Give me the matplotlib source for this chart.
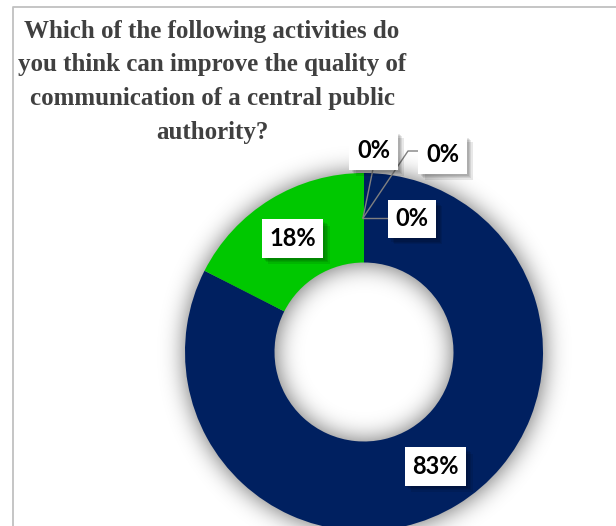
import math
import numpy as np
import matplotlib
matplotlib.use("Agg")
import matplotlib.pyplot as plt
import matplotlib.patheffects as pe

# survey answers (share of respondents, %)
answers = ["Option A", "Option B", "Option C", "Option D", "Option E"]
shares = [82.5, 17.5, 0.0, 0.0, 0.0]
colors = ["#002060", "#00c800", "#7f7f7f", "#a5a5a5", "#ffc000"]
title_lines = ["Which of the following activities do",
               "you think can improve the quality of",
               "communication of a central public",
               "authority?"]

W, H = 616, 526
cx, cy = 364, 352          # ring centre in pixel coords (y down)
R_out, R_in = 179, 89.5


def pct(v):
    # Excel-style half-up rounding
    return "%d%%" % math.floor(v + 0.5)


fig = plt.figure(figsize=(W / 100, H / 100), dpi=100)
ax = fig.add_axes([0, 0, 1, 1])

# soft shadow under the ring
yy, xx = np.mgrid[0:H, 0:W]
rr = np.hypot(xx - cx, yy - cy)
ring = ((rr <= R_out) & (rr >= R_in)).astype(float)
k = np.arange(-36, 37)
g = np.exp(-k ** 2 / (2 * 12.0 ** 2))
g /= g.sum()
blur = np.apply_along_axis(lambda m: np.convolve(m, g, mode="same"), 0, ring)
blur = np.apply_along_axis(lambda m: np.convolve(m, g, mode="same"), 1, blur)
shadow = np.zeros((H, W, 4))
shadow[..., 3] = blur * 0.6
ax.imshow(shadow, extent=(0, W, 0, H), origin="upper", zorder=0,
          interpolation="bilinear")

wedges, _ = ax.pie(shares, colors=colors, radius=R_out, center=(cx, H - cy),
                   startangle=90, counterclock=False,
                   wedgeprops=dict(width=R_out - R_in, linewidth=0))
for w in wedges:
    w.set_zorder(2)

ax.set_xlim(0, W)
ax.set_ylim(0, H)
ax.set_aspect("equal")
ax.axis("off")

# outer frame
ax.plot([12.5, 12.5, W + 5], [-5, H - 6.5, H - 6.5], color="#c0c0c0",
        lw=1.3, zorder=1, clip_on=False)

# title, one line at a time
for i, line in enumerate(title_lines):
    ax.text(212, H - 38 - 33.5 * i, line, ha="center", va="baseline",
            family="Liberation Serif", fontweight="bold", fontsize=18,
            color="#404040", zorder=5)

# leader lines from the top of the ring to the zero labels
hub = (363, H - 218)
ax.plot([hub[0], 373], [hub[1], H - 169], color="#808080", lw=1.0, zorder=3)
ax.plot([hub[0], 408, 418], [hub[1], H - 151, H - 151], color="#808080",
        lw=1.0, zorder=3)
ax.plot([hub[0], 387], [hub[1], hub[1]], color="#808080", lw=1.0, zorder=3)

# soft drop shadow for the label boxes
box_shadow = [pe.SimplePatchShadow(offset=(o, -o), shadow_rgbFace="black",
                                   alpha=0.09) for o in (4.5, 3.5, 2.5, 1.5)]
box_shadow.append(pe.Normal())

label_pos = [(435.5, 466.5), (292.5, 238.5), (373.5, 150.5), (412, 219),
             (442.5, 154.5)]
for v, (lx, ly) in zip(shares, label_pos):
    t = ax.text(lx, H - ly, pct(v), ha="center", va="center", family="Lato",
                fontweight="bold", fontsize=17, color="black", zorder=6,
                bbox=dict(boxstyle="square,pad=0.32", fc="white", ec="none"))
    t.get_bbox_patch().set_path_effects(box_shadow)

fig.savefig("out.png", dpi=100)
